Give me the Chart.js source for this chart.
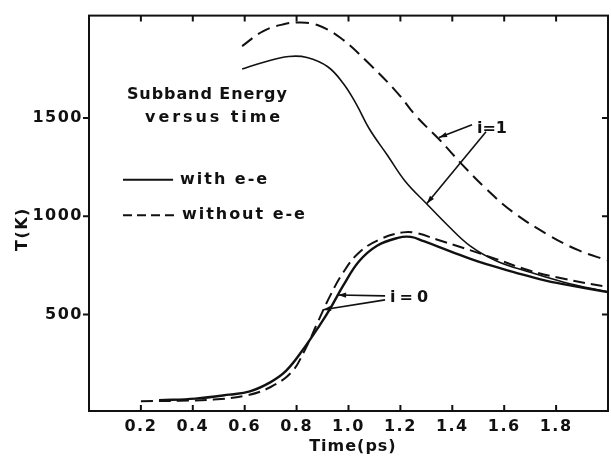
<!DOCTYPE html>
<html><head><meta charset="utf-8">
<script src="https://cdn.jsdelivr.net/npm/chart.js@4.4.1/dist/chart.umd.min.js"></script>
<style>html,body{margin:0;padding:0;background:#fff}canvas{display:block}</style>
</head><body>
<canvas id="c" width="611" height="457"></canvas>
<script>
// ---- data (time in ps, temperature in K) ----
const xTickValues = [0.2, 0.4, 0.6, 0.8, 1.0, 1.2, 1.4, 1.6, 1.8];
const yTickValues = [500, 1000, 1500];

// i = 1, with e-e (solid)
const i1WithTime = [0.59, 0.67, 0.77, 0.84, 0.92, 0.98, 1.03, 1.08, 1.15, 1.22, 1.30, 1.38, 1.47, 1.57, 1.70, 1.83, 2.0];
const i1WithTemp = [1748, 1782, 1812, 1807, 1760, 1675, 1570, 1445, 1310, 1175, 1065, 957, 848, 773, 715, 665, 615];

// i = 1, without e-e (dashed)
const i1WithoutTime = [0.59, 0.67, 0.75, 0.81, 0.88, 0.97, 1.08, 1.19, 1.26, 1.35, 1.44, 1.53, 1.63, 1.77, 1.89, 2.0];
const i1WithoutTemp = [1865, 1940, 1976, 1985, 1972, 1906, 1775, 1625, 1510, 1390, 1260, 1140, 1025, 905, 825, 775];

// i = 0, with e-e (solid)
const i0WithTime = [0.27, 0.41, 0.54, 0.62, 0.70, 0.76, 0.83, 0.89, 0.93, 0.98, 1.04, 1.11, 1.19, 1.24, 1.29, 1.39, 1.51, 1.64, 1.76, 1.89, 2.0];
const i0WithTemp = [65, 73, 93, 110, 157, 215, 332, 448, 532, 648, 770, 850, 890, 895, 873, 823, 765, 715, 673, 640, 615];

// i = 0, without e-e (dashed)
const i0WithoutTime = [0.20, 0.35, 0.48, 0.61, 0.70, 0.78, 0.83, 0.88, 0.93, 0.98, 1.04, 1.12, 1.21, 1.26, 1.34, 1.44, 1.57, 1.70, 1.83, 2.0];
const i0WithoutTemp = [60, 62, 68, 90, 132, 207, 315, 457, 598, 715, 815, 882, 918, 915, 882, 840, 782, 723, 682, 640];

function pts(ts, vs) { return ts.map((t, i) => ({ x: t, y: vs[i] })); }

const ink = '#111';
const FAM = '"DejaVu Sans", sans-serif';

function spacedText(ctx, text, x, y, width) {
  ctx.letterSpacing = '0px';
  const w = ctx.measureText(text).width;
  const sp = Math.max(0, (width - w) / Math.max(1, text.length - 1));
  ctx.letterSpacing = sp.toFixed(2) + 'px';
  ctx.fillText(text, x, y);
  ctx.letterSpacing = '0px';
}

function arrow(ctx, x1, y1, x2, y2) {
  ctx.beginPath(); ctx.moveTo(x1, y1); ctx.lineTo(x2, y2); ctx.stroke();
  const ang = Math.atan2(y2 - y1, x2 - x1);
  const L = 8, W = 2.6;
  ctx.beginPath();
  ctx.moveTo(x2, y2);
  ctx.lineTo(x2 - L * Math.cos(ang) + W * Math.sin(ang), y2 - L * Math.sin(ang) - W * Math.cos(ang));
  ctx.lineTo(x2 - L * Math.cos(ang) - W * Math.sin(ang), y2 - L * Math.sin(ang) + W * Math.cos(ang));
  ctx.closePath(); ctx.fill();
}

const decor = {
  id: 'decor',
  beforeDraw(chart) { chart.ctx.letterSpacing = '1.5px'; },
  afterDraw(chart) {
    const { ctx, chartArea: a, scales: { x, y } } = chart;
    const X = v => x.getPixelForValue(v), Y = v => y.getPixelForValue(v);
    ctx.save();
    ctx.strokeStyle = ink; ctx.fillStyle = ink;
    // frame
    ctx.lineWidth = 2;
    ctx.strokeRect(a.left, a.top, a.right - a.left, a.bottom - a.top);
    // tick marks
    ctx.beginPath();
    xTickValues.forEach(v => {
      const px = X(v);
      ctx.moveTo(px, a.bottom); ctx.lineTo(px, a.bottom - 6);
      ctx.moveTo(px, a.top); ctx.lineTo(px, a.top + 6);
    });
    yTickValues.forEach(v => {
      const py = Y(v);
      ctx.moveTo(a.left, py); ctx.lineTo(a.left - 6, py);
      ctx.moveTo(a.right, py); ctx.lineTo(a.right - 6, py);
    });
    ctx.stroke();

    // axis titles
    ctx.textBaseline = 'middle';
    ctx.textAlign = 'center';
    ctx.font = 'bold 16px ' + FAM;
    ctx.letterSpacing = '1px';
    ctx.fillText('Time(ps)', X(1.017), a.bottom + 36);
    ctx.save();
    ctx.translate(a.left - 66, Y(935));
    ctx.rotate(-Math.PI / 2);
    ctx.letterSpacing = '1.5px';
    ctx.fillText('T(K)', 0, 0);
    ctx.restore();

    // annotation text
    ctx.textAlign = 'left';
    ctx.font = 'bold 16px ' + FAM;
    spacedText(ctx, 'Subband Energy', X(0.146), Y(1615), 160);
    spacedText(ctx, 'versus time', X(0.216), Y(1500), 135);

    // legend
    ctx.lineWidth = 2;
    ctx.beginPath(); ctx.moveTo(X(0.131), Y(1185)); ctx.lineTo(X(0.324), Y(1185)); ctx.stroke();
    spacedText(ctx, 'with e-e', X(0.351), Y(1185), 87);
    ctx.setLineDash([9, 5]);
    ctx.beginPath(); ctx.moveTo(X(0.131), Y(1005)); ctx.lineTo(X(0.339), Y(1005)); ctx.stroke();
    ctx.setLineDash([]);
    spacedText(ctx, 'without e-e', X(0.358), Y(1005), 123);

    // labels with arrows
    ctx.font = 'bold 16px ' + FAM;
    spacedText(ctx, 'i=1', X(1.495), Y(1445), 26);
    spacedText(ctx, 'i=0', X(1.160), Y(585), 38);
    ctx.lineWidth = 1.6;
    arrow(ctx, X(1.476), Y(1465), X(1.349), Y(1400));
    arrow(ctx, X(1.530), Y(1430), X(1.302), Y(1065));
    arrow(ctx, X(1.141), Y(595), X(0.960), Y(600));
    arrow(ctx, X(1.141), Y(575), X(0.902), Y(525));
    ctx.restore();
  }
};

const base = { pointRadius: 0, borderColor: ink, fill: false, tension: 0.4 };

new Chart(document.getElementById('c'), {
  type: 'line',
  data: {
    datasets: [
      Object.assign({ label: 'i=1 with e-e', data: pts(i1WithTime, i1WithTemp), borderWidth: 1.6 }, base),
      Object.assign({ label: 'i=1 without e-e', data: pts(i1WithoutTime, i1WithoutTemp), borderWidth: 2, borderDash: [13, 7] }, base),
      Object.assign({ label: 'i=0 with e-e', data: pts(i0WithTime, i0WithTemp), borderWidth: 2.4 }, base),
      Object.assign({ label: 'i=0 without e-e', data: pts(i0WithoutTime, i0WithoutTemp), borderWidth: 2, borderDash: [12, 6] }, base)
    ]
  },
  options: {
    responsive: false,
    animation: false,
    events: [],
    layout: { padding: { left: 0, top: 9, right: 3, bottom: 0 } },
    plugins: { legend: { display: false }, tooltip: { enabled: false }, title: { display: false } },
    scales: {
      x: {
        type: 'linear', min: 0, max: 2.0,
        grid: { display: false, drawTicks: false },
        border: { display: false },
        afterBuildTicks: s => { s.ticks = xTickValues.map(v => ({ value: v })); },
        afterFit: s => { s.height = 46; },
        ticks: {
          autoSkip: false, maxRotation: 0, padding: 6, color: ink,
          font: { family: FAM, size: 16, weight: 'bold' },
          callback: v => Number(v).toFixed(1)
        }
      },
      y: {
        type: 'linear', min: 10, max: 2020,
        grid: { display: false, drawTicks: false },
        border: { display: false },
        afterBuildTicks: s => { s.ticks = yTickValues.map(v => ({ value: v })); },
        afterFit: s => { s.width = 89; },
        ticks: {
          padding: 6, color: ink,
          font: { family: FAM, size: 16, weight: 'bold' },
          callback: v => String(v)
        }
      }
    }
  },
  plugins: [decor]
});
</script>
</body></html>
